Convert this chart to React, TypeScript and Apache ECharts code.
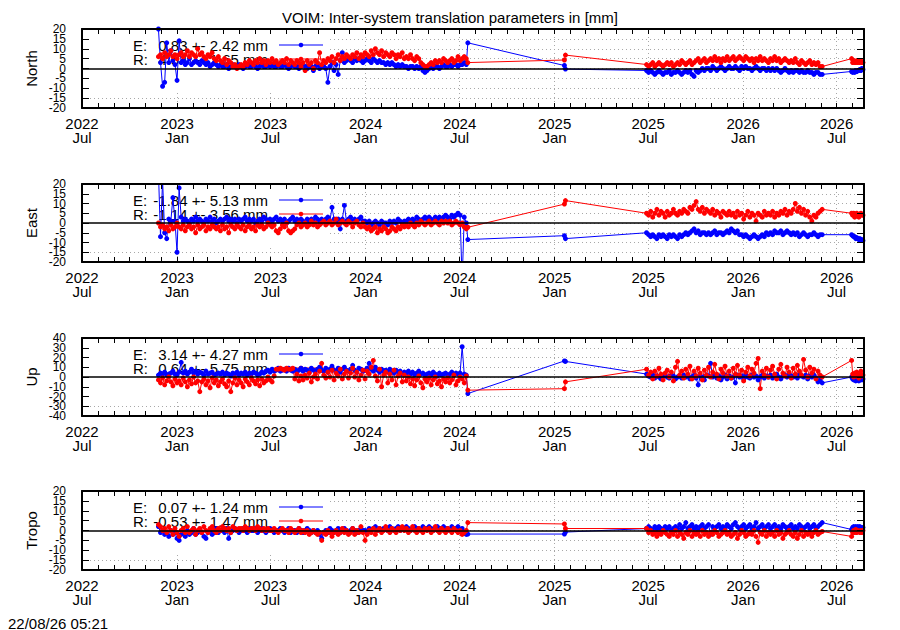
import React, { useEffect, useRef } from "react";
import * as echarts from "echarts";

// ---------------- text ----------------
const TITLE = "VOIM: Inter-system translation parameters in [mm]";
const STAMP = "22/08/26 05:21";
const PANEL_NAMES = ["North", "East", "Up", "Tropo"];
const KEY_E = ["0.83 +- 2.42 mm", "-1.84 +- 5.13 mm", "3.14 +- 4.27 mm", "0.07 +- 1.24 mm"];
const KEY_R = ["4.54 +- 1.65 mm", "-1.14 +- 3.56 mm", "0.64 +- 5.75 mm", "-0.53 +- 1.47 mm"];

// ---------------- x axis ----------------
const X_MIN = "2022-07-01";
const X_MAX = "2026-08-23";
const X_LABEL_DATES = [
  "2022-07-01", "2023-01-01", "2023-07-01", "2024-01-01", "2024-07-01",
  "2025-01-01", "2025-07-01", "2026-01-01", "2026-07-01",
];
const MONTH_NAMES = ["Jan", "Feb", "Mar", "Apr", "May", "Jun", "Jul", "Aug", "Sep", "Oct", "Nov", "Dec"];

// ---------------- y axes: [min, max, interval] and tick labels ----------------
const Y_RANGES = [
  [-20, 20, 5],
  [-20, 20, 5],
  [-40, 40, 10],
  [-20, 20, 5],
];
const Y_TICKS_MM = [-20, -15, -10, -5, 0, 5, 10, 15, 20];
const Y_TICKS_UP = [-40, -30, -20, -10, 0, 10, 20, 30, 40];
const Y_TICKS = [Y_TICKS_MM, Y_TICKS_MM, Y_TICKS_UP, Y_TICKS_MM];

// ---------------- sampling of the daily solutions ----------------
const SEG1_START = "2022-11-26"; // every 4 days
const SEG1_STEP = 4;
const BRIDGE_DATES = ["2024-07-17", "2025-01-20", "2025-01-22"];
const SEG2_START = "2025-06-28"; // every 4 days
const SEG2_STEP = 4;
const SEG3_START = "2026-07-30"; // every 2 days
const SEG3_STEP = 2;

// ---------------- North ----------------
const N_E1 = [
  20, 3, -9, -7, 13, 3, 9, 4, 2, -6,
  14, 3, 4, 2, 3, 5, 2, 3, 4, 3,
  2, 4, 3, 2, 3, 1, 2, 3, 2, 1,
  2, 1, 1, 2, 0, 1, 2, 1, 1, 2,
  1, 0, 1, 2, 1, 1, 2, 1, 0, 1,
  2, 1, 1, 2, 1, 2, 1, 1, 2, 1,
  1, 2, 1, 0, 1, 2, 1, 1, 0, 1,
  2, 1, 0, 1, 1, -1, 1, 2, 0, 1,
  1, 0, -7, 1, 3, -1, 2, -3, 4, 8,
  3, 4, 5, 4, 3, 5, 4, 5, 4, 3,
  4, 5, 4, 3, 5, 4, 3, 4, 3, 3,
  2, 3, 2, 3, 2, 1, 2, 1, 2, 1,
  1, 0, 1, 1, 0, 1, 0, 1, -1, -2,
  -1, 0, 1, 0, 1, 1, 0, 1, 2, 1,
  1, 2, 1, 2, 2, 1, 2, 2, 3, 2,
];
const N_R1 = [
  6, 7, 5, 8, 6, 7, 9, 6, 7, 5,
  7, 8, 6, 7, 9, 6, 8, 7, 6, 10,
  7, 8, 6, 5, 7, 6, 8, 5, 4, 6,
  4, 3, 5, 2, 4, 3, 1, 2, 0, 1,
  2, 1, 3, 2, 4, 3, 2, 4, 3, 5,
  3, 4, 2, 4, 3, 5, 3, 4, 2, 3,
  4, 3, 5, 2, 4, 3, 2, 4, 3, 1,
  3, -1, 4, 2, 3, 0, 4, 3, 8, 2,
  4, 3, 5, 4, 6, 3, 5, 7, 4, 6,
  5, 7, 6, 5, 7, 6, 8, 5, 7, 6,
  8, 7, 6, 9, 7, 10, 8, 7, 9, 6,
  8, 7, 6, 8, 7, 5, 7, 6, 8, 5,
  6, 5, 7, 5, 4, 6, 5, 3, 2, 1,
  1, 2, 3, 2, 4, 3, 4, 3, 5, 4,
  3, 4, 5, 3, 4, 6, 4, 5, 6, 5,
];
const N_EB = [13, 1.5, -0.3];
const N_RB = [3, 4.3, 6.8];
const N_E2 = [
  -1, -2, -1, -2, -3, -2, -1, -2, -3, -2,
  -2, -1, -3, -2, -2, -1, -2, -3, -2, -1,
  -2, -1, -3, -4, -1, -2, -1, 0, -1, 0,
  0, -1, 1, 0, -1, 0, 1, 0, -1, 0,
  1, 0, 0, 1, 0, -1, 1, 0, 1, 0,
  0, -1, 0, 1, 0, -1, 0, 0, -1, 0,
  -1, 0, -1, 0, -1, -2, -1, 0, -1, -2,
  -1, -2, -1, -1, -2, -1, -2, -2, -1, -2,
  -2, -3, -2, -2, -3, -3,
];
const N_R2 = [
  2, 1, 2, 3, 1, 2, 3, 2, 1, 2,
  3, 2, 3, 1, 2, 3, 2, 4, 3, 2,
  3, 4, 2, 3, 4, 5, 3, 4, 5, 3,
  4, 5, 4, 6, 4, 5, 3, 5, 4, 6,
  4, 5, 6, 4, 5, 6, 5, 4, 6, 5,
  4, 5, 3, 5, 4, 6, 4, 5, 4, 3,
  5, 4, 6, 4, 5, 3, 4, 5, 4, 3,
  4, 3, 5, 3, 2, 4, 3, 2, 3, 4,
  2, 3, 2, 3, 1, 1,
];
const N_E3 = [-1.5, -2, -1.5, -2, -1, -1.5, -1, -1, -0.5, -1, 0, -0.5];
const N_R3 = [5, 3, 4, 3, 3, 4, 3, 4, 3, 4, 3, 3];

// ---------------- East ----------------
const E_E1 = [
  26, -7, 22, -5, -8, 2, 1, 13, 1, -15,
  18, 3, 1, 2, 1, 0, 2, 1, 3, 1,
  2, 1, 0, 2, 1, 3, 1, 2, 0, 1,
  2, 1, 2, 3, 1, 2, 1, 2, 0, 2,
  1, 2, 3, 1, 2, 1, 2, 0, 1, 2,
  1, 3, 2, 1, 2, 1, 2, 3, 1, 2,
  1, 2, 0, 1, 2, 3, 1, 2, 1, 2,
  1, 0, 2, 1, 2, 1, 3, 2, 1, 2,
  1, 2, 3, 1, 8, 2, 1, 2, -3, 2,
  9, 1, 2, 3, 1, 2, 1, 2, 3, 1,
  1, 0, 1, -1, 0, 1, 0, -1, 1, 0,
  0, -1, 1, 0, 1, 0, 2, 1, 0, 1,
  1, 2, 1, 2, 1, 3, 2, 1, 2, 3,
  2, 3, 2, 1, 3, 2, 3, 2, 3, 4,
  3, 2, 4, 3, 4, 5, 4, -30, 3, 0,
];
const E_R1 = [
  0, -2, -1, -3, -2, -4, -1, -3, -2, 0,
  -2, -3, -1, -4, -2, -1, -3, -2, -5, -1,
  -3, -2, -1, -4, -2, -3, -1, -2, -3, -2,
  -4, -1, -3, -2, -5, -1, -2, -3, -1, -2,
  -3, -1, -4, -2, -1, -3, -2, -4, -1, -2,
  -1, -3, -2, 0, -1, -2, -1, -4, -5, -3,
  -1, -2, 0, -4, -5, -4, -3, -1, 0, -2,
  -1, 0, -2, -1, 1, -1, 0, -2, -1, 0,
  1, -1, 0, 1, -1, 0, 2, -1, 0, 1,
  0, -1, 1, 0, -2, 0, 1, -1, -2, 0,
  -2, -3, -2, -4, -3, -2, -5, -3, -4, -2,
  -3, -5, -4, -2, -3, -4, -2, -3, -1, -2,
  -1, -2, 0, -1, -2, 0, -1, 1, 0, -1,
  0, 1, -1, 0, 1, 0, -1, 1, 0, 1,
  0, 1, -1, 0, 1, 0, -1, 0, -2, -3,
];
const E_EB = [-8.5, -6.5, -8];
const E_RB = [-2.2, 9.7, 11.5];
const E_E2 = [
  -5, -6, -7, -6, -7, -8, -6, -7, -6, -7,
  -8, -6, -7, -6, -7, -8, -6, -7, -6, -5,
  -6, -5, -4, -3, -5, -4, -6, -5, -5, -6,
  -5, -6, -5, -4, -6, -5, -5, -6, -5, -4,
  -5, -3, -4, -5, -4, -6, -6, -7, -6, -7,
  -8, -7, -6, -7, -8, -7, -6, -7, -5, -6,
  -5, -6, -4, -5, -5, -4, -6, -5, -4, -5,
  -6, -5, -6, -5, -7, -6, -5, -6, -7, -6,
  -6, -5, -6, -7, -6, -6,
];
const E_R2 = [
  5, 4, 6, 3, 5, 7, 4, 6, 5, 3,
  6, 4, 5, 7, 5, 4, 6, 5, 7, 6,
  5, 8, 7, 9, 11, 7, 6, 8, 5, 7,
  6, 5, 7, 4, 6, 5, 3, 6, 5, 4,
  6, 4, 5, 3, 6, 4, 5, 2, 4, 6,
  3, 5, 4, 1, 5, 4, 3, 6, 4, 5,
  4, 6, 3, 5, 4, 6, 5, 7, 4, 6,
  5, 7, 10, 6, 8, 5, 7, 4, 6, 3,
  1, 4, 3, 5, 6, 7,
];
const E_E3 = [-6, -6.5, -7, -7, -8, -7.5, -8, -8.5, -8, -9, -8.5, -9];
const E_R3 = [5, 4, 5, 3, 4, 5, 4, 3, 4, 5, 4, 4];

// ---------------- Up ----------------
const U_E1 = [
  2, 4, 3, 5, 2, 3, 4, 6, 3, 2,
  5, 15, 4, 6, 3, 5, 8, 4, 6, 3,
  5, 4, 2, 6, 3, 4, 5, 2, 3, 4,
  3, 5, 2, 4, 3, 1, 4, 3, 5, 2,
  4, 3, 5, 2, 4, 3, 5, 4, 2, 3,
  5, 4, 6, 7, 5, 8, 6, 7, 9, 6,
  7, 8, 6, 9, 7, 6, 8, 5, 7, 9,
  6, 8, 7, 5, 9, 7, 6, 8, 10, 7,
  6, 9, 5, 8, 11, 7, 6, 9, 5, 8,
  10, 7, 6, 8, 12, 7, 5, 9, 8, 6,
  7, 9, 14, 8, 6, 10, 7, 5, 8, 6,
  7, 5, 8, 6, 4, 7, 5, 6, 3, 5,
  4, 6, 3, 5, 2, 4, 6, 3, 4, 2,
  3, 4, 2, 5, 3, 1, 4, 2, 3, 4,
  2, 3, 5, 2, 4, 3, 4, 31, 3, 2,
];
const U_R1 = [
  -3, -6, -1, -8, -4, 0, -5, -9, -2, -6,
  -4, -8, -1, -5, -10, -3, -7, 0, -6, -4,
  -15, -5, -2, -8, -4, -11, -1, -6, -3, -9,
  -5, -2, -7, -10, -4, -15, -6, -1, -8, -3,
  -6, -10, -2, -5, -8, -1, -4, -7, -3, -9,
  -2, -6, -4, 0, -3, -5, 1, 8, 8, 9,
  8, 7, 9, 8, 8, 9, -2, 3, -4, 1,
  -3, 2, -1, 4, -5, 0, 3, -2, 6, 14,
  2, -1, 5, 0, 7, -3, 4, 1, 8, -2,
  3, 6, -1, 4, 9, 0, 5, -3, 2, 7,
  -2, 6, 3, 10, 17, 1, -4, 8, -10, 2,
  5, -6, 3, -3, 7, -8, 1, 4, -5, 2,
  -4, 0, -7, -2, -9, -3, 1, -6, -11, -2,
  -5, -1, -8, -3, 0, -7, -4, -10, -2, -5,
  -1, -6, -3, 2, -8, -4, 0, -2, -6, 1,
];
const U_EB = [-17, 16.5, 16];
const U_RB = [-13.5, -12, -5];
const U_E2 = [
  3, 1, 0, 2, -1, 1, 0, -2, 1, 2,
  0, -1, 2, 1, -2, 0, 1, -1, 2, 0,
  1, -2, 0, 2, -1, -8, 1, 0, -3, 2,
  1, 14, 0, 2, -1, 1, -3, 0, 2, -2,
  1, -1, 0, -6, 2, 0, 1, -2, 3, 0,
  -1, 2, 0, 1, -3, 0, 2, -1, 1, 0,
  2, -1, 1, 3, 0, -2, 1, 2, 0, 3,
  1, 0, 2, -1, 3, 1, 0, 2, -2, 1,
  0, 2, -1, -5, -3, -6,
];
const U_R2 = [
  8, 2, 5, -2, 6, 1, 9, 3, -3, 4,
  7, 0, 5, -4, 10, 16, 2, 6, -1, 8,
  3, 11, -2, 6, 1, 9, 4, -3, 7, 2,
  10, 0, 5, 13, 3, -2, 8, 4, 11, 1,
  6, -1, 9, 3, 12, 2, 7, -4, 5, 10,
  1, 8, 4, 14, 19, -12, 6, 2, 9, 0,
  7, 11, 3, -2, 8, 13, 4, 1, 10, 5,
  -1, 9, 3, 12, 6, 2, 18, 7, 0, 10,
  4, 8, -2, 6, 2, 0,
];
const U_E3 = [0, -2, -3, -2, -4, -3, -2, -4, -3, -2, -3, -2];
const U_R3 = [17, 3, 0, 4, 1, 5, 2, -1, 3, 6, 1, 2];

// ---------------- Tropo ----------------
const T_E1 = [
  2, -1, 0, -2, -1, -3, 0, -2, -1, -4,
  -5, -2, -1, -3, 0, -2, -1, 1, -2, -1,
  0, -1, -3, -4, -1, 0, -2, -1, 1, -1,
  0, 0, -1, 1, -4, -1, 0, 1, 0, -1,
  0, 1, 0, -1, 1, 0, 0, 1, -1, 0,
  1, 0, -1, 0, 1, 0, -1, 0, 0, 1,
  0, -1, 0, 1, -1, 0, 0, -1, 1, 0,
  -1, 0, 1, 0, -1, 0, -1, 0, -2, -4,
  -1, 0, -1, 1, 0, -1, 0, 1, -1, 0,
  1, 0, -1, 0, 1, 0, -1, 0, 1, 0,
  0, -1, 1, 0, 1, 2, 0, 1, 0, 1,
  1, 0, 2, 1, 0, 1, 2, 0, 1, 1,
  2, 1, 0, 1, 2, 1, 1, 0, 2, 1,
  1, 2, 1, 0, 1, 2, 1, 1, 2, 1,
  1, 0, 2, 1, 1, 2, 0, 1, -1, -2,
];
const T_R1 = [
  3, 2, 0, 1, -1, 2, 0, -2, 1, -1,
  -3, 0, 1, -1, 2, -1, 0, 1, -2, 0,
  1, -1, 2, 0, -1, 1, 2, 0, -1, 1,
  0, 2, 1, 0, 1, -1, 2, 1, 0, 1,
  1, 0, 2, 1, 0, 1, 1, 0, 2, 1,
  0, 1, 0, 1, 0, 0, 1, 0, -1, 0,
  1, 0, 0, -1, 1, 0, -1, 0, 1, -1,
  0, -1, 0, -2, -1, 0, -1, -2, -1, -5,
  -1, -2, 0, -1, -3, -1, 0, -2, -1, 1,
  -1, 0, -2, -1, 1, -2, 0, -1, 2, -1,
  -5, -2, 0, -1, 1, -2, 0, 1, -1, 0,
  2, 0, -1, 1, 0, -1, 1, 0, 2, 0,
  1, -1, 0, 2, 0, -1, 1, 0, -1, 1,
  0, 1, -1, 0, 2, 0, -1, 1, 0, -1,
  1, 0, -1, 1, 0, -1, 0, -2, -1, 0,
];
const T_EB = [-1.8, -1.8, -0.8];
const T_RB = [4, 3.3, 1];
const T_E2 = [
  1, 2, 1, 0, 2, 1, 2, 1, 0, 2,
  1, 2, 0, 1, 2, 1, 3, 1, 2, 4,
  1, 2, 3, 1, 2, 0, 2, 3, 1, 2,
  3, -2, 2, 0, 2, 3, 1, 2, 1, 3,
  2, 1, 3, 4, 2, 1, 2, 3, 1, 2,
  3, 1, 2, 4, 1, 2, 3, 1, 2, 3,
  1, 2, 3, 1, 2, 1, 3, 2, 1, 2,
  3, 1, 2, 1, 3, 2, 1, 2, 3, 1,
  2, 3, 1, 2, 3, 4,
];
const T_R2 = [
  1, -1, 0, -2, -1, -3, -1, -2, 0, -1,
  -2, -3, -1, -2, 0, -3, -1, -2, -4, -1,
  -2, 0, -3, -1, -2, -1, -3, 0, -2, -1,
  -3, -1, -2, 0, -1, -3, -2, -1, 0, -2,
  -1, -3, -2, -1, -4, -2, 0, -1, -3, -2,
  -1, -2, 0, -3, -6, -1, -2, 0, -3, -1,
  -2, -1, -3, 0, -2, -1, -4, -2, -1, 0,
  -2, -3, -1, -4, -2, 0, -3, -1, -2, -1,
  -3, -1, 0, -2, -1, -0.5,
];
const T_E3 = [0.5, 1.5, 2, 1, 2, 1.5, 2, 1, 2, 1.5, 1, 1.5];
const T_R3 = [-3, -1, 0, -1, 0.5, -1, 0, -0.5, -1, 0, -1, 0];

const PANEL_DATA = [
  { e: [N_E1, N_EB, N_E2, N_E3], r: [N_R1, N_RB, N_R2, N_R3] },
  { e: [E_E1, E_EB, E_E2, E_E3], r: [E_R1, E_RB, E_R2, E_R3] },
  { e: [U_E1, U_EB, U_E2, U_E3], r: [U_R1, U_RB, U_R2, U_R3] },
  { e: [T_E1, T_EB, T_E2, T_E3], r: [T_R1, T_RB, T_R2, T_R3] },
];

// ---------------- layout / style ----------------
const W = 900;
const H = 630;
const FONT = "Liberation Sans, Arial, sans-serif";
const BLUE = "#0000ff";
const RED = "#ff0000";
const GRID_COLOR = "#a8a8a8";
const PLOT_LEFT = 82;
const PLOT_RIGHT = 864;
const PANEL_TOP = [29, 184, 338, 491];
const PANEL_H = [79, 78, 78, 79];

const DAY = 86400000;
const ms = (d: string) => Date.parse(d + "T00:00:00Z");

function buildSeries(parts: number[][]) {
  const [s1, b, s2, s3] = parts;
  const out: [number, number][] = [];
  const t1 = ms(SEG1_START);
  s1.forEach((v, i) => out.push([t1 + i * SEG1_STEP * DAY, v]));
  b.forEach((v, i) => out.push([ms(BRIDGE_DATES[i]), v]));
  const t2 = ms(SEG2_START);
  s2.forEach((v, i) => out.push([t2 + i * SEG2_STEP * DAY, v]));
  const t3 = ms(SEG3_START);
  s3.forEach((v, i) => out.push([t3 + i * SEG3_STEP * DAY, v]));
  return out;
}

function monthTicks() {
  const res: number[] = [];
  const end = ms(X_MAX);
  let y = 2022;
  let m = 6;
  while (Date.UTC(y, m, 1) <= end) {
    res.push(Date.UTC(y, m, 1));
    m++;
    if (m > 11) {
      m = 0;
      y++;
    }
  }
  return res;
}

function buildOption() {
  const xMin = ms(X_MIN);
  const xMax = ms(X_MAX);
  const labelVals = X_LABEL_DATES.map(ms);
  const months = monthTicks();
  const dotted = { color: GRID_COLOR, width: 1, type: [1, 3] };
  const border = { show: true, onZero: false, lineStyle: { color: "#000", width: 2 } };
  const yLabelStyle = { fontSize: 12, color: "#000", fontFamily: FONT, margin: 16 };

  const grid: any[] = [];
  const xAxis: any[] = [];
  const yAxis: any[] = [];
  const series: any[] = [];
  const elements: any[] = [];

  PANEL_NAMES.forEach((name, k) => {
    const top = PANEL_TOP[k];
    const h = PANEL_H[k];
    grid.push({ left: PLOT_LEFT, right: W - PLOT_RIGHT, top, height: h, show: false });

    const xb = { type: "value", gridIndex: k, min: xMin, max: xMax, splitLine: { show: false } };
    xAxis.push({
      ...xb,
      position: "bottom",
      z: 3,
      axisLine: border,
      axisTick: { show: true, inside: true, length: 5, customValues: months, lineStyle: { color: "#000", width: 1 } },
      axisLabel: {
        show: true,
        customValues: labelVals,
        showMinLabel: true,
        showMaxLabel: true,
        formatter: (v: number) => {
          const d = new Date(v);
          return d.getUTCFullYear() + "\n" + MONTH_NAMES[d.getUTCMonth()];
        },
        fontSize: 15,
        lineHeight: 14,
        color: "#000",
        fontFamily: FONT,
        margin: 8,
      },
    });
    xAxis.push({
      ...xb,
      position: "top",
      z: 3,
      axisLine: border,
      axisTick: { show: true, inside: true, length: 5, customValues: months, lineStyle: { color: "#000", width: 1 } },
      axisLabel: { show: false },
    });
    xAxis.push({
      ...xb,
      position: "bottom",
      z: 0,
      axisLine: { show: false, onZero: false },
      axisTick: { show: false, customValues: labelVals },
      axisLabel: { show: false },
      splitLine: { show: true, lineStyle: dotted },
    });

    const [ymin, ymax, yint] = Y_RANGES[k];
    const ticks = Y_TICKS[k];
    const labelsA = ticks.filter((_, i) => i % 2 === 0); // -20, -10, 0, 10, 20
    const labelsB = ticks.filter((_, i) => i % 2 === 1); // -15, -5, 5, 15
    const yb = { type: "value", gridIndex: k, min: ymin, max: ymax, interval: yint, splitLine: { show: false } };
    yAxis.push({
      ...yb,
      position: "left",
      z: 3,
      axisLine: border,
      axisTick: { show: true, inside: true, length: 7, lineStyle: { color: "#000", width: 1 } },
      axisLabel: { show: true, customValues: labelsA, showMinLabel: true, showMaxLabel: true, ...yLabelStyle },
    });
    yAxis.push({
      ...yb,
      position: "right",
      z: 3,
      axisLine: border,
      axisTick: { show: true, inside: true, length: 7, lineStyle: { color: "#000", width: 1 } },
      axisLabel: { show: false },
    });
    yAxis.push({
      ...yb,
      position: "left",
      z: 0,
      axisLine: { show: false, onZero: false },
      axisTick: { show: false },
      axisLabel: { show: true, customValues: labelsB, showMinLabel: true, showMaxLabel: true, ...yLabelStyle },
      splitLine: { show: true, lineStyle: dotted },
    });

    const d = PANEL_DATA[k];
    const common = {
      type: "line",
      xAxisIndex: 3 * k,
      yAxisIndex: 3 * k,
      symbol: "circle",
      symbolSize: 5,
      showSymbol: true,
      clip: true,
      silent: true,
      z: 2,
    };
    series.push({
      ...common,
      name: name + " E",
      data: buildSeries(d.e),
      lineStyle: { color: BLUE, width: 1 },
      itemStyle: { color: BLUE },
      markLine: {
        silent: true,
        symbol: ["none", "none"],
        label: { show: false },
        lineStyle: { color: "#000", width: 1.5, type: "solid" },
        data: [{ yAxis: 0 }],
      },
    });
    series.push({
      ...common,
      name: name + " R",
      data: buildSeries(d.r),
      lineStyle: { color: RED, width: 1 },
      itemStyle: { color: RED },
    });

    // opaque key box (hides the dotted grid behind the key)
    elements.push({
      type: "rect",
      silent: true,
      z: 1,
      z2: 0,
      shape: { x: PLOT_LEFT + 2, y: top + 2, width: 246, height: 61 },
      style: { fill: "#fff" },
    });
    const rows = [
      { lab: "E:", txt: KEY_E[k], col: BLUE, y: top + 16 },
      { lab: "R:", txt: KEY_R[k], col: RED, y: top + 30 },
    ];
    rows.forEach((r) => {
      elements.push({
        type: "text", silent: true, z: 1, z2: 1, x: 133, y: r.y,
        style: { text: r.lab, fontSize: 15, fontFamily: FONT, fill: "#000", align: "left", verticalAlign: "middle" },
      });
      elements.push({
        type: "text", silent: true, z: 1, z2: 1, x: 268, y: r.y,
        style: { text: r.txt, fontSize: 15, fontFamily: FONT, fill: "#000", align: "right", verticalAlign: "middle" },
      });
      elements.push({
        type: "line", silent: true, z: 1, z2: 1,
        shape: { x1: 279, y1: r.y, x2: 323, y2: r.y },
        style: { stroke: r.col, lineWidth: 1 },
      });
      elements.push({
        type: "circle", silent: true, z: 1, z2: 2,
        shape: { cx: 301, cy: r.y, r: 2.3 },
        style: { fill: r.col },
      });
    });
    elements.push({
      type: "text", silent: true, z: 1, x: 31, y: top + h / 2, rotation: Math.PI / 2,
      style: { text: name, fontSize: 15, fontFamily: FONT, fill: "#000", align: "center", verticalAlign: "middle" },
    });
  });

  elements.push({
    type: "text", silent: true, z: 1, x: 8, y: 623,
    style: { text: STAMP, fontSize: 15, fontFamily: FONT, fill: "#000", align: "left", verticalAlign: "middle" },
  });

  return {
    animation: false,
    backgroundColor: "#fff",
    textStyle: { fontFamily: FONT, color: "#000" },
    title: {
      text: TITLE,
      left: "center",
      top: 5,
      textStyle: { fontSize: 15, fontWeight: "normal", color: "#000", fontFamily: FONT },
    },
    grid,
    xAxis,
    yAxis,
    series,
    graphic: { elements },
  };
}

export default function App() {
  const ref = useRef<HTMLDivElement>(null);
  useEffect(() => {
    document.body.style.margin = "0";
    if (!ref.current) return;
    const chart = echarts.init(ref.current, undefined, { renderer: "svg", width: W, height: H });
    chart.setOption(buildOption() as any);
    return () => chart.dispose();
  }, []);
  return <div ref={ref} style={{ width: W, height: H }} />;
}
